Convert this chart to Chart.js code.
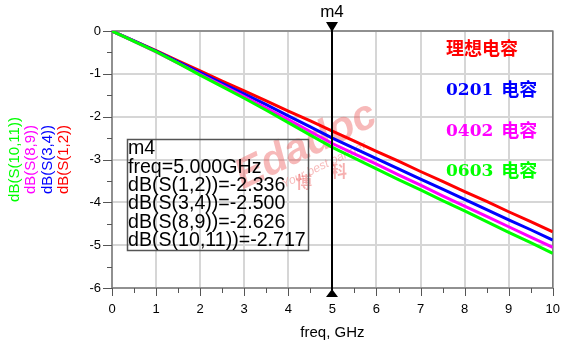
<!DOCTYPE html>
<html>
<head>
<meta charset="utf-8">
<script src="https://cdn.jsdelivr.net/npm/chart.js@4"></script>
<style>
  html, body { margin: 0; padding: 0; background: #fff; }
  #wrap { width: 574px; height: 347px; }
</style>
</head>
<body>
<div id="wrap"><canvas id="sChart" width="574" height="347"></canvas></div>
<script>
// frequency points, GHz
const freqs = [0, 0.5, 1, 1.5, 2, 2.5, 3, 3.5, 4, 4.5, 5, 5.5, 6, 6.5, 7, 7.5, 8, 8.5, 9, 9.5, 10];

// insertion loss, dB
const idealDb = [0, -0.23, -0.46, -0.70, -0.93, -1.17, -1.40, -1.63, -1.87, -2.10, -2.336, -2.57, -2.81, -3.04, -3.28, -3.51, -3.75, -3.98, -4.22, -4.45, -4.69];
const cap0201Db = [0, -0.23, -0.47, -0.72, -0.97, -1.22, -1.47, -1.72, -1.98, -2.24, -2.50, -2.74, -2.98, -3.22, -3.46, -3.69, -3.93, -4.17, -4.41, -4.64, -4.88];
const cap0402Db = [0, -0.24, -0.49, -0.75, -1.01, -1.27, -1.53, -1.80, -2.07, -2.35, -2.626, -2.87, -3.11, -3.36, -3.60, -3.85, -4.09, -4.33, -4.57, -4.81, -5.05];
const cap0603Db = [0, -0.24, -0.48, -0.75, -1.03, -1.30, -1.57, -1.85, -2.14, -2.43, -2.717, -2.97, -3.22, -3.47, -3.71, -3.96, -4.20, -4.45, -4.70, -4.94, -5.19];

const seriesNames = ['dB(S(1,2))', 'dB(S(3,4))', 'dB(S(8,9))', 'dB(S(10,11))'];
const seriesColors = ['#ff0000', '#0000ff', '#ff00ff', '#00ff00'];
const legendNames = [['', '理想电容'], ['0201', '电容'], ['0402', '电容'], ['0603', '电容']];

const xTicks = [0, 1, 2, 3, 4, 5, 6, 7, 8, 9, 10];
const yTicks = [0, -1, -2, -3, -4, -5, -6];

const markerName = 'm4';
const markerFreq = 5;
const markerLines = ['m4', 'freq=5.000GHz', 'dB(S(1,2))=-2.336', 'dB(S(3,4))=-2.500', 'dB(S(8,9))=-2.626', 'dB(S(10,11))=-2.717'];

function toPoints(ys) {
  return freqs.map((f, i) => ({ x: f, y: ys[i] }));
}

// frame, minor ticks and watermark behind the curves
const backdrop = {
  id: 'backdrop',
  beforeDatasetsDraw(chart) {
    const ctx = chart.ctx;
    const a = chart.chartArea;
    const xs = chart.scales.x, ys = chart.scales.y;
    ctx.save();

    // watermark
    ctx.save();
    ctx.translate(306, 146);
    ctx.rotate(-0.45);
    ctx.fillStyle = 'rgba(235, 80, 80, 0.4)';
    ctx.font = 'bold italic 42px "Liberation Sans", Arial';
    ctx.textAlign = 'center';
    ctx.textBaseline = 'middle';
    ctx.fillText('Edadoc', 0, 0);
    ctx.font = 'italic 12px "Liberation Sans", Arial';
    ctx.fillText('Your best partner', 8, 25);
    ctx.restore();
    ctx.save();
    ctx.fillStyle = 'rgba(235, 80, 80, 0.45)';
    ctx.font = 'bold 16px "Noto Sans CJK SC"';
    ctx.textAlign = 'center';
    ctx.textBaseline = 'middle';
    ctx.fillText('博', 304, 182);
    ctx.fillText('科', 339, 171);
    ctx.restore();

    // plot frame
    ctx.strokeStyle = '#7a7a7a';
    ctx.lineWidth = 1.5;
    ctx.strokeRect(a.left, a.top, a.right - a.left, a.bottom - a.top);

    // axis ticks (long at integers, short at halves)
    ctx.lineWidth = 1;
    ctx.strokeStyle = '#555';
    ctx.beginPath();
    for (let v = 0; v <= 10; v += 0.5) {
      const px = Math.round(xs.getPixelForValue(v)) + 0.5;
      const len = Number.isInteger(v) ? 8 : 5;
      ctx.moveTo(px, a.bottom);
      ctx.lineTo(px, a.bottom + len);
    }
    for (let v = 0; v >= -6; v -= 0.5) {
      const py = Math.round(ys.getPixelForValue(v)) + 0.5;
      const len = Number.isInteger(v) ? 9 : 5;
      ctx.moveTo(a.left - len, py);
      ctx.lineTo(a.left, py);
    }
    ctx.stroke();
    ctx.restore();
  }
};

// marker, readout box and text on top
const overlay = {
  id: 'overlay',
  afterDatasetsDraw(chart) {
    const ctx = chart.ctx;
    const a = chart.chartArea;
    const xs = chart.scales.x;
    const mx = Math.round(xs.getPixelForValue(markerFreq));
    ctx.save();

    // marker line and triangles
    ctx.strokeStyle = '#000';
    ctx.lineWidth = 2;
    ctx.beginPath();
    ctx.moveTo(mx, a.top - 2);
    ctx.lineTo(mx, a.bottom + 2);
    ctx.stroke();
    ctx.fillStyle = '#000';
    ctx.beginPath();
    ctx.moveTo(mx - 6, a.top - 9);
    ctx.lineTo(mx + 6, a.top - 9);
    ctx.lineTo(mx, a.top + 1);
    ctx.closePath();
    ctx.fill();
    ctx.beginPath();
    ctx.moveTo(mx - 6, a.bottom + 9);
    ctx.lineTo(mx + 6, a.bottom + 9);
    ctx.lineTo(mx, a.bottom + 1);
    ctx.closePath();
    ctx.fill();

    ctx.font = '17px "Liberation Sans", Arial';
    ctx.textAlign = 'center';
    ctx.textBaseline = 'middle';
    ctx.fillText(markerName, mx, 12);

    // readout box
    ctx.strokeStyle = '#555';
    ctx.lineWidth = 1.5;
    ctx.strokeRect(127.5, 139.5, 181, 111);
    ctx.fillStyle = '#000';
    ctx.font = '19.6px "Liberation Sans", Arial';
    ctx.textAlign = 'left';
    markerLines.forEach((t, i) => ctx.fillText(t, 128, 149 + i * 18.3));

    // right-hand legend, digits and CJK on one baseline
    ctx.textBaseline = 'alphabetic';
    legendNames.forEach((parts, i) => {
      const y = 54 + i * 40.8;
      ctx.fillStyle = seriesColors[i];
      let x = 446;
      if (parts[0]) {
        ctx.font = 'bold 17px "DejaVu Serif"';
        ctx.fillText(parts[0], x, y);
        x += ctx.measureText(parts[0]).width + 8;
      }
      ctx.font = 'bold 18px "Noto Sans CJK SC"';
      ctx.fillText(parts[1], x, y + 1);
    });

    // rotated y titles
    ctx.font = '15px "Liberation Sans", Arial';
    ctx.textAlign = 'center';
    const colX = [68, 52, 35, 19];
    seriesNames.forEach((n, i) => {
      ctx.save();
      ctx.translate(colX[i], (a.top + a.bottom) / 2);
      ctx.rotate(-Math.PI / 2);
      ctx.fillStyle = seriesColors[i];
      ctx.textBaseline = 'alphabetic';
      ctx.fillText(n, 0, 0);
      ctx.restore();
    });

    // x title
    ctx.fillStyle = '#000';
    ctx.font = '15px "Liberation Sans", Arial';
    ctx.textAlign = 'center';
    ctx.textBaseline = 'middle';
    ctx.fillText('freq, GHz', (a.left + a.right) / 2, 333);
    ctx.restore();
  }
};

const allSeries = [idealDb, cap0201Db, cap0402Db, cap0603Db];

new Chart(document.getElementById('sChart'), {
  type: 'line',
  data: {
    datasets: allSeries.map((ys, i) => ({
      label: seriesNames[i],
      data: toPoints(ys),
      borderColor: seriesColors[i],
      borderWidth: 3,
      pointRadius: 0,
      tension: 0,
      fill: false,
      order: 3 - i
    }))
  },
  options: {
    responsive: false,
    animation: false,
    devicePixelRatio: 1,
    layout: { padding: { left: 0, top: 31, right: 16, bottom: 0 } },
    plugins: { legend: { display: false }, tooltip: { enabled: false } },
    scales: {
      x: {
        type: 'linear',
        min: 0,
        max: 10,
        afterFit(scale) { scale.height = 59; },
        afterBuildTicks(scale) { scale.ticks = xTicks.map(v => ({ value: v })); },
        grid: { color: '#d6d6d6', lineWidth: 2, drawTicks: false },
        border: { display: false },
        ticks: { color: '#000', padding: 14, font: { family: '"Liberation Sans", Arial', size: 13 } }
      },
      y: {
        type: 'linear',
        min: -6,
        max: 0,
        afterFit(scale) { scale.width = 112; },
        afterBuildTicks(scale) { scale.ticks = yTicks.map(v => ({ value: v })); },
        grid: { color: '#d6d6d6', lineWidth: 2, drawTicks: false },
        border: { display: false },
        ticks: { color: '#000', padding: 11, font: { family: '"Liberation Sans", Arial', size: 13 } }
      }
    }
  },
  plugins: [backdrop, overlay]
});
</script>
</body>
</html>
